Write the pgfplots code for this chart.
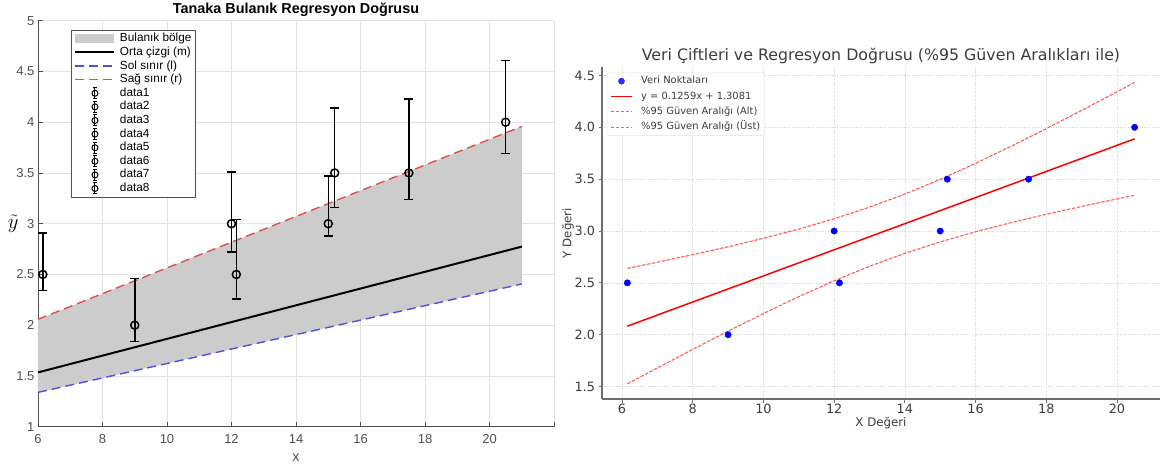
\documentclass[border=0pt]{standalone}
\usepackage{fontspec}
\usepackage{pgfplots}
\pgfplotsset{compat=1.18}
\usepackage{pgfplotstable}
\newfontfamily\matfont{Liberation Sans}
\newfontfamily\mplfont{DejaVu Sans}

\definecolor{bandgray}{RGB}{204,204,204}
\definecolor{axgray}{RGB}{80,80,80}
\definecolor{gridgray}{RGB}{226,226,226}
\definecolor{lred}{RGB}{222,80,80}
\definecolor{lblue}{RGB}{80,80,222}
\definecolor{mpltext}{RGB}{60,60,60}
\definecolor{mplspine}{RGB}{110,110,110}
\definecolor{cired}{RGB}{255,90,90}

% confidence band of the right panel (x, lower, upper)
\pgfplotstableread{
x     lo     hi
6.15  1.5252 2.6396
7     1.6795 2.6993
8     1.8587 2.7719
9     2.0341 2.8483
10    2.2043 2.9299
11    2.3672 3.0188
12    2.5200 3.1178
13    2.6598 3.2298
14    2.7847 3.3567
15    2.8950 3.4982
16    2.9926 3.6524
17    3.0804 3.8164
18    3.1613 3.9873
19    3.2371 4.1633
20    3.3094 4.3428
20.5  3.3446 4.4336
}\ciband

\pgfplotsset{
  errpt/.style={black, only marks, mark=o, mark size=4pt, line width=1.5pt,
    legend image code/.code={
      \path[draw=none] (0pt,0pt) -- (39pt,0pt);
      \draw[black,line width=1pt] (19.5pt,-5.5pt) -- (19.5pt,5.5pt)
        (17.5pt,-5.5pt) -- (21.5pt,-5.5pt) (17.5pt,5.5pt) -- (21.5pt,5.5pt);
      \draw[black,line width=1pt] (19.5pt,0pt) circle (3pt);},
    error bars/y dir=both, error bars/y explicit,
    error bars/error bar style={line width=1.5pt, black},
    error bars/error mark options={rotate=90, mark size=4.5pt, line width=1.5pt, black}},
}

\begin{document}
\begin{tikzpicture}
\useasboundingbox (0pt,0pt) rectangle (1162pt,467pt);

% ---------------- left panel ----------------
\begin{axis}[
  at={(38pt,40.3pt)}, anchor=south west,
  scale only axis, width=516pt, height=406pt,
  xmin=6, xmax=22, ymin=1, ymax=5,
  axis lines*=left,
  axis line style={axgray, line width=0.9pt},
  xtick={6,8,10,12,14,16,18,20,22},
  xticklabels={6,8,10,12,14,16,18,20,{}},
  ytick={1,1.5,2,2.5,3,3.5,4,4.5,5},
  tick align=inside, major tick length=5pt,
  tick style={axgray, line width=0.9pt},
  grid=major, major grid style={gridgray, line width=0.7pt},
  /pgf/number format/assume math mode=true,
  ticklabel style={font=\matfont\fontsize{13}{15}\selectfont, text=axgray},
  xticklabel style={yshift=-4pt},
  title={Tanaka Bulanık Regresyon Doğrusu},
  title style={font=\matfont\bfseries\fontsize{14.4}{16}\selectfont,
    at={(axis description cs:0.5,1)}, anchor=center, yshift=4.7pt},
  xlabel={x},
  every axis x label/.style={at={(axis description cs:0.5,0)}, anchor=center,
    yshift=-31.3pt, font=\matfont\fontsize{14.4}{16}\selectfont, text=axgray},
  ylabel={$\tilde{y}$},
  every axis y label/.style={at={(axis description cs:0,0.5)}, anchor=center,
    xshift=-24.7pt, font=\fontsize{20}{20}\selectfont},
  legend cell align=left,
  legend image code/.code={\draw[#1] (0pt,0pt) -- (39pt,0pt);},
  legend style={at={(axis description cs:0.064,0.978)}, anchor=north west,
    font=\matfont\fontsize{11.8}{13}\selectfont, draw=axgray, line width=0.9pt,
    fill=white, inner xsep=3pt, inner ysep=2pt, column sep=3.7pt, row sep=0pt,
    nodes={inner sep=0.8pt, text height=9pt, text depth=3pt}},
]
\addplot[fill=bandgray, draw=none,
  legend image code/.code={\fill[bandgray] (0pt,-4.6pt) rectangle (39pt,4.6pt);}]
  coordinates {(6,1.338) (21,2.406) (21,3.958) (6,2.058)} -- cycle;
\addplot[black, line width=2pt] coordinates {(6,1.535) (21,2.774)};
\addplot[lblue, line width=1.4pt, dash pattern=on 9pt off 5pt] coordinates {(6,1.338) (21,2.406)};
\addplot[lred, line width=1.4pt, dash pattern=on 9pt off 5pt] coordinates {(6,2.058) (21,3.958)};
\addplot[errpt] coordinates {(6.15,2.5) += (0,0.41) -= (0,0.16)};
\addplot[errpt] coordinates {(9,2.0) += (0,0.46) -= (0,0.16)};
\addplot[errpt] coordinates {(12,3.0) += (0,0.51) -= (0,0.28)};
\addplot[errpt] coordinates {(12.15,2.5) += (0,0.54) -= (0,0.24)};
\addplot[errpt] coordinates {(15,3.0) += (0,0.47) -= (0,0.12)};
\addplot[errpt] coordinates {(15.2,3.5) += (0,0.64) -= (0,0.34)};
\addplot[errpt] coordinates {(17.5,3.5) += (0,0.73) -= (0,0.26)};
\addplot[errpt] coordinates {(20.5,4.0) += (0,0.61) -= (0,0.31)};
\legend{Bulanık bölge, Orta çizgi (m), Sol sınır (l), Sağ sınır (r),
  data1, data2, data3, data4, data5, data6, data7, data8}
\end{axis}

% ---------------- right panel ----------------
\begin{axis}[
  at={(602pt,68pt)}, anchor=south west,
  scale only axis, width=558pt, height=331.7pt,
  xmin=5.4325, xmax=21.2175, ymin=1.3798, ymax=4.579,
  axis lines*=left,
  axis line style={mplspine, line width=1.6pt},
  xtick={6,8,10,12,14,16,18,20},
  ytick={1.5,2,2.5,3,3.5,4,4.5},
  yticklabel style={/pgf/number format/.cd, fixed, fixed zerofill, precision=1},
  tick align=outside, major tick length=3.5pt,
  tick style={mplspine, line width=0.8pt},
  grid=major, major grid style={gray!30, dash pattern=on 1.2pt off 1.2pt, line width=0.6pt},
  /pgf/number format/assume math mode=true,
  ticklabel style={font=\mplfont\fontsize{12.8}{14}\selectfont, text=mpltext},
  xticklabel style={yshift=2pt},
  title={Veri Çiftleri ve Regresyon Doğrusu (\%95 Güven Aralıkları ile)},
  title style={font=\mplfont\fontsize{15.8}{18}\selectfont, text=mpltext,
    at={(axis description cs:0.5,1)}, anchor=center, yshift=5.6pt},
  xlabel={X Değeri},
  every axis x label/.style={at={(axis description cs:0.5,0)}, anchor=center,
    yshift=-24.3pt, font=\mplfont\fontsize{11.8}{14}\selectfont, text=mpltext},
  ylabel={Y Değeri},
  every axis y label/.style={at={(axis description cs:-0.0609,0.5)}, anchor=center,
    rotate=90, font=\mplfont\fontsize{11.8}{14}\selectfont, text=mpltext},
  legend cell align=left,
  legend image code/.code={\draw[#1] (0pt,0pt) -- (21pt,0pt);},
  legend style={at={(axis description cs:0.009,0.984)}, anchor=north west,
    font=\mplfont\fontsize{9.9}{12}\selectfont, text=mpltext,
    draw=gray!25, rounded corners=2.5pt, fill=white, fill opacity=0.8, text opacity=1,
    inner xsep=3pt, inner ysep=2pt, column sep=7pt, row sep=2.6pt,
    nodes={inner sep=1.5pt, text height=7.5pt, text depth=2.2pt}},
]
\addplot[only marks, mark=*, mark size=3.2pt, color=blue,
  legend image code/.code={\path[draw=none] (0pt,0pt) -- (21pt,0pt); \fill[blue] (10.5pt,0pt) circle (3pt);}]
  coordinates {(6.15,2.5) (9,2.0) (12,3.0) (12.15,2.5) (15,3.0) (15.2,3.5) (17.5,3.5) (20.5,4.0)};
\addplot[red, line width=1.5pt] coordinates {(6.15,2.0824) (20.5,3.8891)};
\addplot[cired, line width=1.1pt, dash pattern=on 3.5pt off 1.5pt] table[x=x, y=lo] {\ciband};
\addplot[cired, line width=1.1pt, dash pattern=on 3.5pt off 1.5pt] table[x=x, y=hi] {\ciband};
\legend{Veri Noktaları, y = 0.1259x + 1.3081, \%95 Güven Aralığı (Alt), \%95 Güven Aralığı (Üst)}
\end{axis}
\end{tikzpicture}
\end{document}
